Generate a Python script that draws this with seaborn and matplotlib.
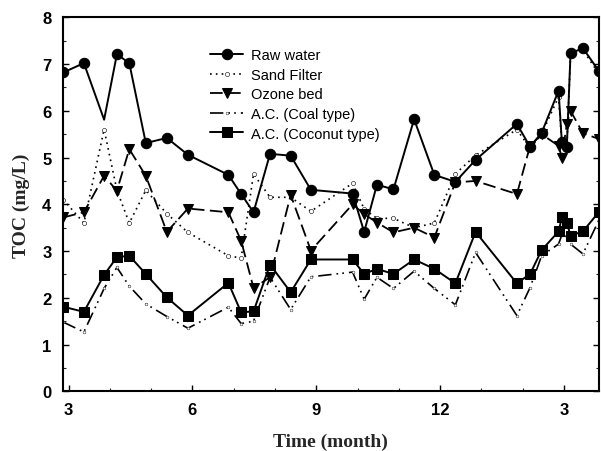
import matplotlib
matplotlib.use("Agg")
import matplotlib.pyplot as plt
import seaborn as sns
import numpy as np

# sampling times (month index; 13-16 = next year's Jan-Apr)
months = [2.87, 3.37, 3.86, 4.17, 4.47, 4.87, 5.38, 5.89, 6.87, 7.18, 7.48, 7.88,
          8.38, 8.87, 9.88, 10.16, 10.47, 10.87, 11.37, 11.86, 12.37, 12.86, 13.86,
          14.18, 14.46, 14.87, 14.95, 15.07, 15.16, 15.46, 15.84]

raw_water = [6.82, 7.02, 5.81, 7.21, 7.02, 5.31, 5.42, 5.06, 4.63, 4.22, 3.83, 5.08,
             5.04, 4.31, 4.23, 3.41, 4.42, 4.32, 5.82, 4.63, 4.48, 4.95, 5.72,
             5.23, 5.53, 6.43, 5.33, 5.23, 7.23, 7.34, 6.86]

sand_filter = [4.1, 3.6, 5.6, 4.3, 3.6, 4.3, 3.8, 3.4, 2.9, 2.85, 4.65, 4.15,
               4.15, 3.85, 4.45, 3.9, 3.7, 3.7, 3.5, 3.6, 4.65, 5.05, 5.6,
               5.2, 5.5, 6.3, 5.3, 5.2, 7.2, 7.3, 6.8]

ozone_bed = [3.72, 3.83, 4.61, 4.29, 5.18, 4.61, 3.41, 3.91, 3.83, 3.22, 2.21, 2.44,
             4.2, 3.01, 4.0, 3.79, 3.61, 3.4, 3.5, 3.29, 4.47, 4.5, 4.22,
             5.25, 5.5, 5.25, 5.0, 5.72, 6.0, 5.52, 5.4]

ac_coal = [1.48, 1.27, 2.2, 2.65, 2.25, 1.87, 1.6, 1.35, 1.8, 1.45, 1.5, 2.44,
           1.75, 2.45, 2.55, 1.97, 2.44, 2.2, 2.57, 2.2, 1.85, 2.97, 1.62,
           2.22, 2.9, 3.15, 3.35, 3.3, 3.15, 2.94, 3.65]

ac_coconut = [1.81, 1.70, 2.49, 2.87, 2.90, 2.51, 2.01, 1.62, 2.32, 1.69, 1.71, 2.71,
              2.12, 2.82, 2.82, 2.51, 2.62, 2.51, 2.82, 2.62, 2.31, 3.41, 2.31,
              2.51, 3.02, 3.42, 3.72, 3.61, 3.33, 3.42, 3.83]

x_ticks = [3, 6, 9, 12, 15]
x_ticklabels = ["3", "6", "9", "12", "3"]
y_ticks = [0, 1, 2, 3, 4, 5, 6, 7, 8]

sns.set_theme(style="ticks")
plt.rcParams["font.family"] = ["Liberation Sans", "DejaVu Sans"]

fig = plt.figure(figsize=(6.01, 4.52), dpi=100)
ax = fig.add_axes([0.104, 0.132, 0.8927, 0.8275])

kw = dict(ax=ax, color="black", estimator=None, sort=False)
raw_marks = [i for i in range(len(months)) if i != 2]
sns.lineplot(x=months, y=sand_filter, label="Sand Filter", marker="o", markersize=3,
             markerfacecolor="white", markeredgecolor="black", markeredgewidth=0.4,
             linewidth=1.2, linestyle=(0, (1, 2.5)), zorder=2, **kw)
sns.lineplot(x=months, y=ac_coal, label="A.C. (Coal type)", marker="o", markersize=2,
             markerfacecolor="white", markeredgecolor="black", markeredgewidth=0.3,
             linewidth=1.2, linestyle=(0, (8, 3, 1, 2.5, 1, 3)), zorder=2, **kw)
sns.lineplot(x=months, y=ozone_bed, label="Ozone bed", marker="v", markersize=7.5,
             linewidth=1.3, markeredgecolor="black", linestyle=(0, (7, 3)), zorder=3, **kw)
sns.lineplot(x=months, y=ac_coconut, label="A.C. (Coconut type)", marker="s", markersize=7,
             linewidth=1.4, markeredgecolor="black", zorder=4, **kw)
sns.lineplot(x=months, y=raw_water, label="Raw water", marker="o", markersize=7.5,
             linewidth=1.4, markeredgecolor="black", markevery=raw_marks, zorder=5, **kw)

ax.set_xlim(2.852, 15.85)
ax.set_ylim(0, 8)
ax.set_xticks(x_ticks)
ax.set_xticklabels(x_ticklabels)
ax.set_yticks(y_ticks)
ax.set_yticks(np.arange(0.5, 8, 1.0), minor=True)
ax.set_xticks(np.arange(4, 16, 1), minor=True)
ax.tick_params(axis="both", which="major", direction="in", length=4, width=1,
               labelsize=12, colors="black", right=True, top=False, pad=8)
ax.tick_params(axis="both", which="minor", direction="in", length=2, width=0.8,
               right=True)
for lab in ax.get_xticklabels() + ax.get_yticklabels():
    lab.set_fontweight("bold")
for s in ax.spines.values():
    s.set_linewidth(1.5)
    s.set_color("black")

ax.set_xlabel("Time (month)", fontsize=14, fontweight="bold",
              family=["Liberation Serif", "DejaVu Serif"], labelpad=11)
ax.set_ylabel("TOC (mg/L)", fontsize=14, fontweight="bold",
              family=["Liberation Serif", "DejaVu Serif"], labelpad=9)

handles, labels = ax.get_legend_handles_labels()
order = ["Raw water", "Sand Filter", "Ozone bed", "A.C. (Coal type)", "A.C. (Coconut type)"]
hmap = dict(zip(labels, handles))
leg = ax.legend([hmap[o] for o in order], order, loc="upper left",
                bbox_to_anchor=(0.25, 0.952), frameon=False,
                fontsize=10.5, handlelength=2.3, labelspacing=0.38, handletextpad=0.5,
                borderpad=0.4)
for t in leg.get_texts():
    t.set_color("black")

fig.savefig("out.png", dpi=100)
